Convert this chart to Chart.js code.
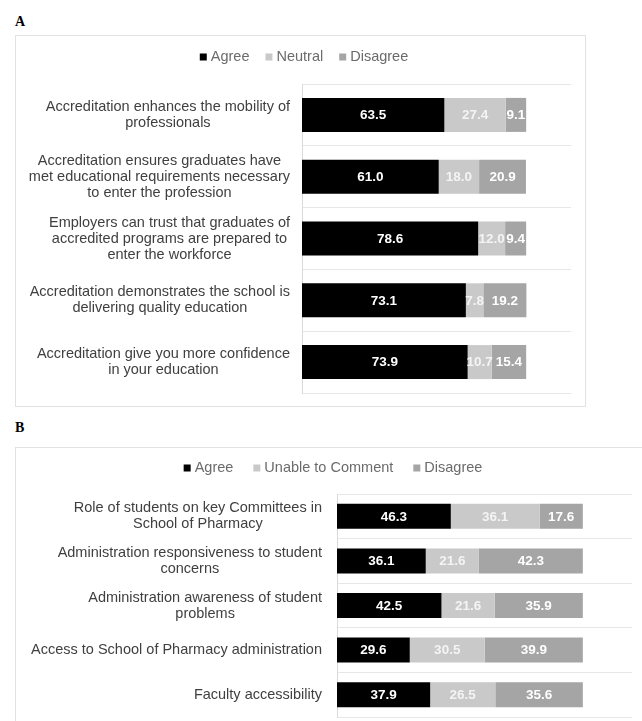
<!DOCTYPE html>
<html><head><meta charset="utf-8">
<script src="https://cdn.jsdelivr.net/npm/chart.js@4.4.1/dist/chart.umd.min.js"></script>
<style>
html,body{margin:0;padding:0;background:#fff;overflow:hidden;width:642px;height:721px;}
.tag{position:absolute;font-family:"Liberation Serif",serif;font-weight:bold;font-size:14px;line-height:16px;color:#000;}
.box{position:absolute;border:1px solid #e2e2e2;background:#fff;}
canvas{display:block;}
</style></head><body>
<div class="tag" style="left:15px;top:14px">A</div>
<div class="box" style="left:15px;top:35px;width:569px;height:370px"><canvas id="cA" width="569" height="370"></canvas></div>
<div class="tag" style="left:15px;top:420px">B</div>
<div class="box" style="left:15px;top:447px;width:636px;height:300px"><canvas id="cB" width="636" height="300"></canvas></div>
<script>
// ---- Data: panel A ----
const categoriesA = [
  ["Accreditation enhances the mobility of", "professionals"],
  ["Accreditation ensures graduates have", "met educational requirements necessary", "to enter the profession"],
  ["Employers can trust that graduates of", "accredited programs are prepared to", "enter the workforce"],
  ["Accreditation demonstrates the school is", "delivering quality education"],
  ["Accreditation give you more confidence", "in your education"]
];
const seriesNamesA = ["Agree", "Neutral", "Disagree"];
const agreeA = [63.5, 61.0, 78.6, 73.1, 73.9];
const neutralA = [27.4, 18.0, 12.0, 7.8, 10.7];
const disagreeA = [9.1, 20.9, 9.4, 19.2, 15.4];

// ---- Data: panel B ----
const categoriesB = [
  ["Role of students on key Committees in", "School of Pharmacy"],
  ["Administration responsiveness to student", "concerns"],
  ["Administration awareness of student", "problems"],
  ["Access to School of Pharmacy administration"],
  ["Faculty accessibility"]
];
const seriesNamesB = ["Agree", "Unable to Comment", "Disagree"];
const agreeB = [46.3, 36.1, 42.5, 29.6, 37.9];
const unableB = [36.1, 21.6, 21.6, 30.5, 26.5];
const disagreeB = [17.6, 42.3, 35.9, 39.9, 35.6];

const axisMax = 120;
const colors = ["#000000", "#c9c9c9", "#a5a5a5"];
const valueColors = ["#ffffff", "#f4f4f4", "#ffffff"];

const catLabelPlugin = {
  id: 'catLabels',
  afterDraw(chart, args, opts) {
    const ctx = chart.ctx, ys = chart.scales.y;
    ctx.save();
    ctx.font = opts.font; ctx.fillStyle = opts.color;
    ctx.textBaseline = 'middle'; ctx.textAlign = 'center';
    chart.data.labels.forEach((lab, i) => {
      const lines = Array.isArray(lab) ? lab : [lab];
      const w = Math.max(...lines.map(l => ctx.measureText(l).width));
      const cx = chart.chartArea.left - opts.gap - w / 2;
      const cy = ys.getPixelForValue(i);
      lines.forEach((l, k) => ctx.fillText(l, cx, cy + (k - (lines.length - 1) / 2) * opts.lineHeight));
    });
    ctx.restore();
  }
};
const legendPlugin = {
  id: 'boxLegend',
  afterDraw(chart, args, opts) {
    const ctx = chart.ctx;
    ctx.save();
    ctx.font = opts.font; ctx.textBaseline = 'middle'; ctx.textAlign = 'left';
    const items = chart.data.datasets.map(d => ({text: d.label, color: d.backgroundColor, w: ctx.measureText(d.label).width}));
    const total = items.reduce((s, it) => s + opts.box + opts.boxGap + it.w, 0) + opts.itemGap * (items.length - 1);
    let x = opts.centerX - total / 2;
    const y = opts.y;
    items.forEach(it => {
      ctx.fillStyle = it.color;
      ctx.fillRect(x, y - opts.box / 2, opts.box, opts.box);
      x += opts.box + opts.boxGap;
      ctx.fillStyle = opts.color;
      ctx.fillText(it.text, x, y);
      x += it.w + opts.itemGap;
    });
    ctx.restore();
  }
};
const valuePlugin = {
  id: 'vals',
  afterDatasetsDraw(chart, args, opts) {
    const ctx = chart.ctx;
    ctx.save();
    ctx.font = opts.font; ctx.textAlign = 'center'; ctx.textBaseline = 'middle';
    chart.data.datasets.forEach((ds, di) => {
      const meta = chart.getDatasetMeta(di);
      ctx.fillStyle = valueColors[di];
      meta.data.forEach((bar, i) => {
        ctx.fillText(ds.data[i].toFixed(1), (bar.x + bar.base) / 2, bar.y + 0.5);
      });
    });
    ctx.restore();
  }
};

function makeChart(id, labels, names, series, cfg) {
  return new Chart(document.getElementById(id), {
    type: 'bar',
    data: {
      labels: labels,
      datasets: series.map((d, i) => ({
        label: names[i], data: d, backgroundColor: colors[i], borderWidth: 0,
        barPercentage: cfg.barPct, categoryPercentage: 1
      }))
    },
    options: {
      indexAxis: 'y', responsive: false, animation: false,
      layout: {padding: cfg.padding},
      scales: {
        x: {stacked: true, min: 0, max: axisMax, display: false},
        y: {stacked: true, grid: {color: '#e7e7e7', drawTicks: false, offset: true},
            border: {color: '#dadada'}, ticks: {display: false}}
      },
      plugins: {
        legend: {display: false}, tooltip: {enabled: false},
        catLabels: {font: '14.5px "Liberation Sans", Arial, sans-serif', color: '#404040', gap: cfg.gap, lineHeight: 16},
        boxLegend: {font: '14.5px "Liberation Sans", Arial, sans-serif', color: '#6b6b6b', box: 7, boxGap: 4, itemGap: cfg.legendGap, centerX: cfg.legendX, y: cfg.legendY},
        vals: {font: 'bold 13.5px "Liberation Sans", Arial, sans-serif'}
      }
    },
    plugins: [catLabelPlugin, legendPlugin, valuePlugin]
  });
}

makeChart('cA', categoriesA, seriesNamesA, [agreeA, neutralA, disagreeA],
  {barPct: 0.55, padding: {left: 286, right: 14, top: 48, bottom: 13}, gap: 12, legendX: 288, legendY: 21, legendGap: 16});
makeChart('cB', categoriesB, seriesNamesB, [agreeB, unableB, disagreeB],
  {barPct: 0.56, padding: {left: 321, right: 20, top: 46, bottom: 31}, gap: 15, legendX: 317, legendY: 20, legendGap: 20});
</script>
</body></html>
